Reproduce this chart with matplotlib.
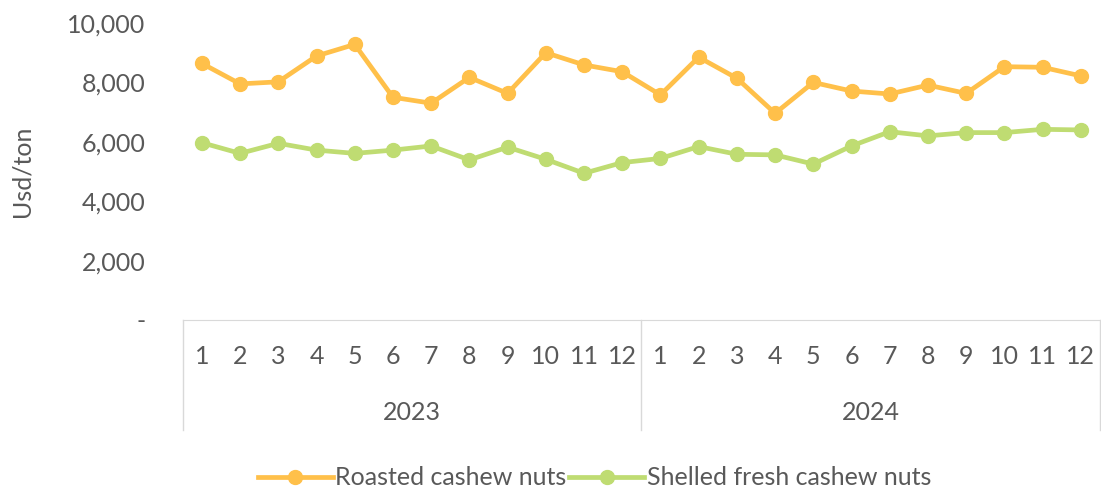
import matplotlib.pyplot as plt
from matplotlib.lines import Line2D

# Datos
years = ["2023", "2024"]
months = [str(m) for m in range(1, 13)] * 2
roasted = [8640, 7950, 8020, 8890, 9280, 7500, 7300, 8170, 7630, 9000, 8590, 8360,
           7580, 8850, 8140, 6960, 8000, 7710, 7610, 7910, 7630, 8530, 8510, 8220]
shelled = [5970, 5610, 5950, 5720, 5610, 5720, 5860, 5390, 5820, 5410, 4940, 5300,
           5440, 5840, 5580, 5560, 5250, 5860, 6340, 6200, 6310, 6310, 6420, 6400]
yticks = [0, 2000, 4000, 6000, 8000, 10000]

orange = "#FFC04A"
green = "#BFDC72"
grey = "#595959"
line_grey = "#D9D9D9"
fs = 18

plt.rcParams['font.family'] = ['Lato', 'DejaVu Sans']

fig = plt.figure(figsize=(11.01, 4.90), dpi=100)
ax = fig.add_axes([0.166, 0.347, 0.833, 0.606])

x = list(range(len(months)))
ax.plot(x, roasted, color=orange, lw=3.4, marker='o', ms=10, label="Roasted cashew nuts")
ax.plot(x, shelled, color=green, lw=3.4, marker='o', ms=10, label="Shelled fresh cashew nuts")

ax.set_xlim(-0.5, len(months) - 0.5)
ax.set_ylim(0, 10000)
ax.set_yticks(yticks)
ax.set_yticklabels(["-" if v == 0 else f"{v:,}" for v in yticks])
ax.set_xticks(x)
ax.set_xticklabels(months)
ax.tick_params(axis='both', length=0, colors=grey, labelsize=fs)
ax.tick_params(axis='x', pad=18)
ax.tick_params(axis='y', pad=27)

for s in ["top", "right", "left"]:
    ax.spines[s].set_visible(False)
ax.spines["bottom"].set_color(line_grey)

# Separadores de grupo de categoría
for xv in [-0.5, 11.5, len(months) - 0.5]:
    ax.plot([xv, xv], [0, -0.37], color=line_grey, lw=1,
            transform=ax.get_xaxis_transform(), clip_on=False)
for i, yr in enumerate(years):
    ax.text(5.5 + 12 * i, -0.31, yr, transform=ax.get_xaxis_transform(),
            ha='center', va='center', color=grey, fontsize=fs)

ax.set_ylabel("Usd/ton", color=grey, fontsize=fs, labelpad=24)

handles = [Line2D([], [], color=orange, lw=3.4, marker='o', ms=10),
           Line2D([], [], color=green, lw=3.4, marker='o', ms=10)]
fig.legend(handles, ["Roasted cashew nuts", "Shelled fresh cashew nuts"],
           loc='center', bbox_to_anchor=(0.54, 0.025), ncol=2, frameon=False,
           fontsize=fs, labelcolor=grey, handlelength=3.0, handletextpad=0.1,
           columnspacing=0.1)

fig.savefig("out.png", dpi=100)
